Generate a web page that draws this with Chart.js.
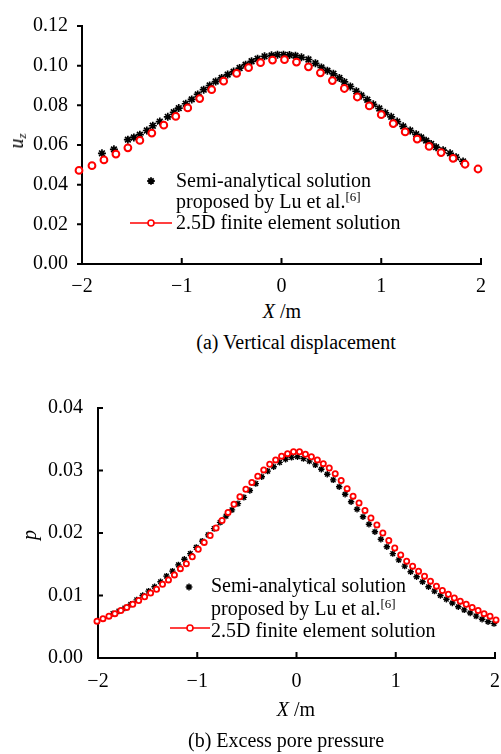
<!DOCTYPE html>
<html>
<head>
<meta charset="utf-8">
<script src="https://cdn.jsdelivr.net/npm/chart.js@4/dist/chart.umd.min.js"></script>
<style>
  body { margin: 0; background: #fff; }
  #page { position: relative; width: 501px; height: 754px; overflow: hidden; background: #fff; }
  canvas { position: absolute; left: 0; }
  .t { position: absolute; font-family: "Liberation Serif", "Times New Roman", serif; font-size: 20px; line-height: 20px; color: #000; white-space: nowrap; }
  .c { transform: translateX(-50%); }
  .leg sup { font-size: 13px; line-height: 0; vertical-align: 7px; }
  .rot { transform: translate(-50%, -50%) rotate(-90deg); }
  .rot sub { font-size: 13px; line-height: 0; vertical-align: -3px; }
</style>
</head>
<body>
<div id="page">
  <canvas id="dispChart" width="501" height="300" style="top:0"></canvas>
  <canvas id="poreChart" width="515" height="340" style="top:380px"></canvas>

  <div class="t rot" style="left:16px;top:141px"><i>u</i><sub><i>z</i></sub></div>
  <div class="t c" style="left:282px;top:301px"><i>X</i> /m</div>
  <div class="t c" style="left:296px;top:332px">(a) Vertical displacement</div>
  <div class="t leg" style="left:176px;top:170px;line-height:21px">Semi-analytical solution<br>proposed by Lu et al.<sup>[6]</sup><br>2.5D finite element solution</div>

  <div class="t rot" style="left:29px;top:535px"><i>p</i></div>
  <div class="t c" style="left:296px;top:699px"><i>X</i> /m</div>
  <div class="t c" style="left:286px;top:730px">(b) Excess pore pressure</div>
  <div class="t leg" style="left:211px;top:574px;line-height:22.5px">Semi-analytical solution<br>proposed by Lu et al.<sup>[6]</sup><br>2.5D finite element solution</div>
</div>
<script>
// (a) вертикальне переміщення
const dispFemX = [-2.03, -1.90, -1.78, -1.66, -1.54, -1.42, -1.30, -1.18, -1.06, -0.94, -0.82, -0.70, -0.58, -0.45, -0.33, -0.21, -0.09,
    0.03, 0.15, 0.27, 0.39, 0.51, 0.63, 0.76, 0.88, 1.00, 1.12, 1.24, 1.36, 1.48, 1.60, 1.72, 1.84, 1.97];
const dispFemY = [0.0472, 0.0496, 0.0525, 0.0554, 0.0586, 0.0623, 0.0660, 0.0700, 0.0744, 0.0787, 0.0834, 0.0879, 0.0922, 0.0961, 0.0990, 0.1015, 0.1028,
    0.1030, 0.1018, 0.0994, 0.0964, 0.0925, 0.0885, 0.0842, 0.0797, 0.0753, 0.0708, 0.0666, 0.0630, 0.0593, 0.0562, 0.0533, 0.0503, 0.0479];
const dispSemiX = [-1.80, -1.68, -1.54, -1.48, -1.42, -1.35, -1.29, -1.22, -1.14, -1.08, -1.03, -0.96, -0.90, -0.84, -0.78, -0.72, -0.66, -0.60,
    -0.54, -0.48, -0.42, -0.36, -0.30, -0.24, -0.17, -0.10, -0.04, 0.02, 0.08, 0.14, 0.20, 0.27, 0.34, 0.40, 0.46, 0.52, 0.58, 0.63,
    0.69, 0.75, 0.80, 0.86, 0.92, 0.98, 1.04, 1.10, 1.16, 1.22, 1.29, 1.35, 1.40, 1.45, 1.50, 1.55, 1.62, 1.69, 1.75, 1.82];
const dispSemiY = [0.0558, 0.0578, 0.0627, 0.0638, 0.0652, 0.0673, 0.0697, 0.0718, 0.0742, 0.0765, 0.0786, 0.0808, 0.0830, 0.0855, 0.0879, 0.0900, 0.0920, 0.0938,
    0.0955, 0.0970, 0.0988, 0.1005, 0.1022, 0.1035, 0.1047, 0.1052, 0.1055, 0.1055, 0.1054, 0.1050, 0.1042, 0.1031, 0.1012, 0.0991, 0.0975, 0.0959, 0.0938, 0.0918,
    0.0895, 0.0871, 0.0850, 0.0828, 0.0805, 0.0784, 0.0762, 0.0742, 0.0718, 0.0694, 0.0673, 0.0654, 0.0638, 0.0622, 0.0605, 0.0589, 0.0574, 0.0558, 0.0538, 0.0517];

// (b) надлишковий поровий тиск
const poreFemX = [-2.07, -2.01, -1.95, -1.89, -1.83, -1.77, -1.71, -1.65, -1.59, -1.53, -1.47, -1.41, -1.35, -1.29, -1.23, -1.17, -1.11, -1.05,
    -0.99, -0.93, -0.87, -0.81, -0.75, -0.69, -0.63, -0.57, -0.51, -0.45, -0.39, -0.33, -0.27, -0.21, -0.15, -0.09, -0.03,
    0.03, 0.09, 0.15, 0.21, 0.27, 0.33, 0.39, 0.45, 0.51, 0.57, 0.63, 0.69, 0.75, 0.81, 0.87, 0.93, 0.99,
    1.05, 1.11, 1.17, 1.23, 1.29, 1.35, 1.41, 1.47, 1.53, 1.59, 1.65, 1.71, 1.77, 1.83, 1.89, 1.95, 2.01, 2.07];
const poreFemY = [0.0056, 0.0059, 0.0063, 0.0067, 0.0071, 0.0076, 0.0081, 0.0086, 0.0092, 0.0098, 0.0104, 0.0110, 0.0118, 0.0125, 0.0133, 0.0143, 0.0151, 0.0162,
    0.0174, 0.0185, 0.0196, 0.0208, 0.0220, 0.0233, 0.0246, 0.0258, 0.0270, 0.0281, 0.0291, 0.0301, 0.0310, 0.0317, 0.0323, 0.0327, 0.0330,
    0.0330, 0.0326, 0.0322, 0.0317, 0.0311, 0.0304, 0.0295, 0.0284, 0.0271, 0.0259, 0.0248, 0.0236, 0.0224, 0.0213, 0.0200, 0.0188, 0.0176,
    0.0165, 0.0155, 0.0147, 0.0139, 0.0131, 0.0123, 0.0115, 0.0108, 0.0102, 0.0096, 0.0091, 0.0086, 0.0081, 0.0076, 0.0071, 0.0067, 0.0061, 0.0058];
const poreSemiX = [-1.85, -1.79, -1.73, -1.67, -1.61, -1.55, -1.49, -1.43, -1.37, -1.31, -1.25, -1.19, -1.13, -1.07, -1.01, -0.95, -0.89, -0.83,
    -0.77, -0.71, -0.65, -0.59, -0.53, -0.47, -0.41, -0.35, -0.29, -0.23, -0.17, -0.11, -0.05, 0.01, 0.07, 0.13, 0.19, 0.25,
    0.31, 0.37, 0.43, 0.49, 0.55, 0.61, 0.67, 0.73, 0.79, 0.85, 0.91, 0.97, 1.03, 1.09, 1.15, 1.21, 1.27, 1.33,
    1.39, 1.45, 1.51, 1.57, 1.63, 1.69, 1.75, 1.81, 1.87, 1.93, 1.99];
const poreSemiY = [0.0071, 0.0075, 0.0080, 0.0086, 0.0093, 0.0100, 0.0107, 0.0114, 0.0122, 0.0131, 0.0139, 0.0149, 0.0158, 0.0167, 0.0177, 0.0187, 0.0197, 0.0207,
    0.0217, 0.0227, 0.0237, 0.0247, 0.0257, 0.0268, 0.0279, 0.0290, 0.0299, 0.0306, 0.0313, 0.0318, 0.0321, 0.0322, 0.0319, 0.0315, 0.0309, 0.0302,
    0.0294, 0.0285, 0.0274, 0.0262, 0.0250, 0.0238, 0.0226, 0.0214, 0.0202, 0.0190, 0.0178, 0.0167, 0.0157, 0.0147, 0.0138, 0.0130, 0.0122, 0.0114,
    0.0107, 0.0100, 0.0094, 0.0088, 0.0082, 0.0077, 0.0072, 0.0067, 0.0062, 0.0058, 0.0055];

const seriesNames = ["2.5D finite element solution", "Semi-analytical solution proposed by Lu et al.[6]"];

const serifFont = { family: "Liberation Serif", size: 20 };
Chart.defaults.font.family = serifFont.family;
Chart.defaults.font.size = 20;
Chart.defaults.color = "#000";

function toPoints(xs, ys) {
    return xs.map((x, i) => ({ x: x, y: ys[i] }));
}

// Засічки на осях (всередину / назовні)
const axisTicks = {
    id: "axisTicks",
    afterDraw(chart, args, opts) {
        const ctx = chart.ctx;
        const xs = chart.scales.x, ys = chart.scales.y;
        ctx.save();
        ctx.strokeStyle = "#000";
        ctx.lineWidth = 2;
        ctx.beginPath();
        xs.ticks.forEach(t => {
            const px = xs.getPixelForValue(t.value);
            ctx.moveTo(px, ys.bottom);
            ctx.lineTo(px, ys.bottom - opts.xLen);
        });
        ys.ticks.forEach(t => {
            const py = ys.getPixelForValue(t.value);
            ctx.moveTo(xs.left, py);
            ctx.lineTo(xs.left + opts.yLen, py);
        });
        ctx.stroke();
        ctx.restore();
    }
};

// Маркери легенди
const legendMarks = {
    id: "legendMarks",
    afterDraw(chart, args, opts) {
        const ctx = chart.ctx;
        ctx.save();
        const [sx, sy, sr, sw] = opts.star;
        ctx.strokeStyle = "#000";
        ctx.lineWidth = sw;
        ctx.beginPath();
        for (let a = 0; a < 4; a++) {
            const ang = a * Math.PI / 4;
            ctx.moveTo(sx - sr * Math.cos(ang), sy - sr * Math.sin(ang));
            ctx.lineTo(sx + sr * Math.cos(ang), sy + sr * Math.sin(ang));
        }
        ctx.stroke();
        const [x1, x2, ly, cr, cw] = opts.line;
        ctx.strokeStyle = "#ff0000";
        ctx.lineWidth = 1.6;
        ctx.beginPath();
        ctx.moveTo(x1, ly);
        ctx.lineTo(x2, ly);
        ctx.stroke();
        ctx.beginPath();
        ctx.arc((x1 + x2) / 2, ly, cr, 0, Math.PI * 2);
        ctx.fillStyle = "#fff";
        ctx.fill();
        ctx.lineWidth = cw;
        ctx.stroke();
        ctx.restore();
    }
};

function makeChart(canvasId, cfg) {
    return new Chart(document.getElementById(canvasId), {
        type: "scatter",
        data: {
            datasets: [
                {
                    label: seriesNames[0],
                    data: toPoints(cfg.femX, cfg.femY),
                    showLine: false,
                    pointStyle: "circle",
                    pointRadius: cfg.circleR,
                    pointBorderWidth: cfg.circleW,
                    pointBorderColor: "#ff0000",
                    pointBackgroundColor: "#ffffff",
                    clip: false
                },
                {
                    label: seriesNames[1],
                    data: toPoints(cfg.semiX, cfg.semiY),
                    showLine: false,
                    pointStyle: "star",
                    pointRadius: cfg.starR,
                    pointBorderWidth: cfg.starW,
                    pointBorderColor: "#000000",
                    pointBackgroundColor: "#000000",
                    clip: false
                }
            ]
        },
        options: {
            responsive: false,
            animation: false,
            events: [],
            layout: { padding: cfg.padding },
            plugins: {
                legend: { display: false },
                tooltip: { enabled: false },
                axisTicks: cfg.ticks,
                legendMarks: cfg.legend
            },
            scales: {
                x: {
                    type: "linear",
                    min: -2, max: 2,
                    ticks: {
                        stepSize: 1,
                        padding: cfg.xPad,
                        font: serifFont,
                        color: "#000",
                        callback: v => String(v).replace("-", "\u2212")
                    },
                    grid: { drawOnChartArea: false, drawTicks: false },
                    border: { color: "#000", width: 2 },
                    afterFit: s => { s.height = cfg.xHeight; }
                },
                y: {
                    min: 0, max: cfg.yMax,
                    ticks: {
                        stepSize: cfg.yStep,
                        padding: cfg.yPad,
                        font: serifFont,
                        color: "#000",
                        callback: v => v.toFixed(2)
                    },
                    grid: { drawOnChartArea: false, drawTicks: false },
                    border: { color: "#000", width: 2 },
                    afterFit: s => { s.width = cfg.yWidth; }
                }
            }
        },
        plugins: [axisTicks, legendMarks]
    });
}

makeChart("dispChart", {
    femX: dispFemX, femY: dispFemY, semiX: dispSemiX, semiY: dispSemiY,
    circleR: 3.4, circleW: 2, starR: 4, starW: 1.7,
    padding: { left: 0, top: 15, right: 20, bottom: 0 },
    xHeight: 36, yWidth: 82, xPad: 11, yPad: 14,
    yMax: 0.12, yStep: 0.02,
    ticks: { xLen: 6, yLen: -5 },
    legend: { star: [151, 181, 3.8, 1.8], line: [130, 172, 223, 3, 1.6] }
});

makeChart("poreChart", {
    femX: poreFemX, femY: poreFemY, semiX: poreSemiX, semiY: poreSemiY,
    circleR: 2.6, circleW: 1.8, starR: 3.2, starW: 1.4,
    padding: { left: 0, top: 28, right: 20, bottom: 0 },
    xHeight: 62, yWidth: 98, xPad: 12, yPad: 15,
    yMax: 0.04, yStep: 0.01,
    ticks: { xLen: 6, yLen: 5 },
    legend: { star: [189, 207, 3.4, 1.5], line: [170, 210, 248, 3, 1.6] }
});
</script>
</body>
</html>
